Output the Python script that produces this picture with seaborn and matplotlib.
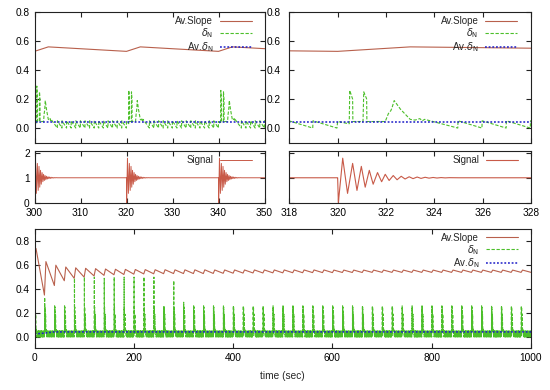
import matplotlib
matplotlib.use("Agg")
import pandas as pd
import matplotlib.pyplot as plt
import seaborn as sns


# kick times (sec): a new disturbance every 20 s
kick_times = [0, 20, 40, 60, 80, 100, 120, 140, 160, 180,
              200, 220, 240, 260, 280, 300, 320, 340, 360, 380,
              400, 420, 440, 460, 480, 500, 520, 540, 560, 580,
              600, 620, 640, 660, 680, 700, 720, 740, 760, 780,
              800, 820, 840, 860, 880, 900, 920, 940, 960, 980]

# height of the first delta_N spike after each kick
spike_height = [0.33, 0.33, 0.26, 0.26, 0.49, 0.50, 0.50, 0.49, 0.50, 0.50,
                0.50, 0.50, 0.50, 0.26, 0.47, 0.29, 0.26, 0.26, 0.26, 0.26,
                0.26, 0.26, 0.26, 0.26, 0.26, 0.26, 0.26, 0.26, 0.26, 0.26,
                0.26, 0.26, 0.26, 0.26, 0.26, 0.26, 0.26, 0.26, 0.26, 0.26,
                0.26, 0.26, 0.26, 0.26, 0.26, 0.26, 0.26, 0.26, 0.26, 0.26]

# Av.Slope: value reached a few s after each kick, and value just before the next one
slope_peak = [0.74, 0.63, 0.60, 0.585, 0.578, 0.574, 0.571, 0.568, 0.566, 0.565,
              0.564, 0.563, 0.562, 0.562, 0.561, 0.561, 0.561, 0.561, 0.560, 0.560,
              0.560, 0.560, 0.560, 0.560, 0.560, 0.560, 0.560, 0.560, 0.560, 0.560,
              0.559, 0.559, 0.559, 0.559, 0.559, 0.559, 0.559, 0.559, 0.559, 0.559,
              0.559, 0.559, 0.559, 0.559, 0.559, 0.559, 0.559, 0.559, 0.559, 0.559]
slope_trough = [0.35, 0.43, 0.47, 0.49, 0.50, 0.51, 0.515, 0.52, 0.522, 0.525,
                0.527, 0.528, 0.529, 0.530, 0.530, 0.530, 0.530, 0.531, 0.532, 0.533,
                0.534, 0.535, 0.535, 0.536, 0.536, 0.537, 0.537, 0.538, 0.538, 0.538,
                0.539, 0.539, 0.539, 0.540, 0.540, 0.540, 0.540, 0.540, 0.540, 0.540,
                0.540, 0.540, 0.540, 0.540, 0.540, 0.540, 0.540, 0.540, 0.540, 0.540]
slope_start = 0.70
slope_rise = 3.0

# delta_N during one 20 s cycle (offset from kick)
delta_cycle_t = [0.00, 0.45, 0.48, 0.50, 0.58, 0.62, 0.63, 1.05, 1.08, 1.18, 1.20, 1.21,
                 1.97, 2.10, 2.20, 2.25, 2.34, 2.60, 3.00, 3.20, 3.40, 3.50, 3.60, 3.83,
                 4.97, 4.98, 5.97, 5.98, 6.97, 6.98, 7.97, 7.98, 8.97, 8.98, 9.97, 9.98,
                 10.97, 10.98, 11.97, 11.98, 12.97, 12.98, 13.97, 13.98, 14.97, 14.98,
                 15.97, 15.98, 16.97, 16.98, 17.97, 17.98, 18.97, 18.98, 19.97]
delta_cycle_v = [0.045, 0.03, 0.03, 0.25, 0.22, 0.20, 0.045, 0.045, 0.25, 0.21, 0.20, 0.045,
                 0.045, 0.10, 0.12, 0.14, 0.19, 0.13, 0.06, 0.055, 0.065, 0.05, 0.06, 0.05,
                 0.0, 0.05, 0.0, 0.05, 0.0, 0.05, 0.0, 0.05, 0.0, 0.05, 0.0, 0.05,
                 0.0, 0.05, 0.0, 0.05, 0.0, 0.05, 0.0, 0.05, 0.0, 0.05,
                 0.0, 0.05, 0.0, 0.05, 0.0, 0.05, 0.0, 0.05, 0.0]
first_spike = 3

# signal after a kick: turning points of the ringing (offset from kick)
signal_t = [0.00, 0.03, 0.21, 0.41, 0.62, 0.80, 0.98, 1.14, 1.31, 1.47, 1.65, 1.82,
            1.97, 2.13, 2.30, 2.46, 2.63, 2.79, 2.96, 3.12, 3.29, 3.45, 3.62, 3.78,
            3.95, 4.11, 4.28, 4.45, 4.62, 5.00, 19.99]
signal_v = [1.00, 0.00, 1.79, 0.37, 1.58, 0.49, 1.46, 0.62, 1.30, 0.74, 1.21, 0.84,
            1.14, 0.89, 1.09, 0.92, 1.06, 0.95, 1.04, 0.965, 1.03, 0.975, 1.02, 0.985,
            1.012, 0.99, 1.008, 0.995, 1.004, 1.00, 1.00]

# Av.delta_N
avdelta_t = [0, 15, 40, 1000]
avdelta_v = [0.025, 0.03, 0.042, 0.042]

c_slope = "#b8604c"
c_delta = "#4cbf2a"
c_avd = "#1c1cc8"
c_sig = "#c85a48"

# build the full time series from the per-kick values
slope_t, slope_v, delta_t, delta_v, sig_t, sig_v = [], [], [], [], [], []
for k, T in enumerate(kick_times):
    prev = slope_start if k == 0 else slope_trough[k - 1]
    slope_t += [T, T + slope_rise, T + 20]
    slope_v += [prev, slope_peak[k], slope_trough[k]]
    vals = list(delta_cycle_v)
    vals[first_spike] = spike_height[k]
    delta_t += [T + o for o in delta_cycle_t]
    delta_v += vals
    sig_t += [T + o for o in signal_t]
    sig_v += signal_v

slope = pd.DataFrame({"t": slope_t, "v": slope_v})
delta = pd.DataFrame({"t": delta_t, "v": delta_v})
avdelta = pd.DataFrame({"t": avdelta_t, "v": avdelta_v})
signal = pd.DataFrame({"t": sig_t, "v": sig_v})

sns.set_style("ticks")
plt.rcParams["font.family"] = ["Liberation Sans", "DejaVu Sans"]
plt.rcParams["mathtext.fontset"] = "dejavusans"
plt.rcParams["font.size"] = 7.3
plt.rcParams["xtick.direction"] = "in"
plt.rcParams["ytick.direction"] = "in"
plt.rcParams["xtick.top"] = True
plt.rcParams["ytick.right"] = True
plt.rcParams["axes.linewidth"] = 0.8
plt.rcParams["axes.edgecolor"] = "#222222"

W, H = 550, 390
fig = plt.figure(figsize=(5.5, 3.9), dpi=100)


def add_ax(x0, x1, y0, y1):
    return fig.add_axes([x0 / W, 1 - y1 / H, (x1 - x0) / W, (y1 - y0) / H])


def draw_delta(ax, lw=0.8):
    sns.lineplot(x="t", y="v", data=slope, ax=ax, color=c_slope, lw=lw,
                 estimator=None, sort=False, label="Av.Slope")
    sns.lineplot(x="t", y="v", data=delta, ax=ax, color=c_delta, lw=lw,
                 estimator=None, sort=False, label=r"$\delta_\mathrm{N}$",
                 linestyle=(0, (3, 1.5)))
    sns.lineplot(x="t", y="v", data=avdelta, ax=ax, color=c_avd, lw=1.1,
                 estimator=None, sort=False, label=r"Av.$\delta_\mathrm{N}$",
                 linestyle=(0, (1.2, 1.2)))


def legend(ax, x, y):
    ax.legend(loc="upper right", bbox_to_anchor=(x, y), frameon=False,
              markerfirst=False, handlelength=3.3, handletextpad=0.7,
              labelspacing=0.0, borderaxespad=0, borderpad=0, fontsize=7.0)


def style(ax, ypad=3.5):
    ax.set_xlabel("")
    ax.set_ylabel("")
    ax.tick_params(length=3.5, width=0.8, colors="#222222", labelcolor="black")
    ax.tick_params(axis="y", pad=ypad)


# top-left: 300-350 s
ax1 = add_ax(34.5, 264.5, 12.3, 142.5)
draw_delta(ax1)
ax1.set_xlim(300, 350)
ax1.set_ylim(-0.1, 0.8)
ax1.set_xticks([300, 310, 320, 330, 340, 350])
ax1.set_yticks([0.0, 0.2, 0.4, 0.6, 0.8])
ax1.set_yticklabels(["0.0", "0.2", "0.4", "0.6", "0.8"])
ax1.tick_params(labelbottom=False)
style(ax1)
legend(ax1, 0.946, 0.97)

ax2 = add_ax(34.5, 264.5, 151, 203.3)
sns.lineplot(x="t", y="v", data=signal, ax=ax2, color=c_sig, lw=0.7,
             estimator=None, sort=False, label="Signal")
ax2.set_xlim(300, 350)
ax2.set_ylim(-0.03, 2.08)
ax2.set_xticks([300, 310, 320, 330, 340, 350])
ax2.set_yticks([0, 1, 2])
style(ax2)
legend(ax2, 0.946, 0.92)

# top-right: 318-328 s
ax3 = add_ax(289.3, 531, 12.3, 142.5)
draw_delta(ax3)
ax3.set_xlim(318, 328)
ax3.set_ylim(-0.1, 0.8)
ax3.set_xticks([318, 320, 322, 324, 326, 328])
ax3.set_yticks([0.0, 0.2, 0.4, 0.6, 0.8])
ax3.set_yticklabels(["0.0", "0.2", "0.4", "0.6", "0.8"])
ax3.tick_params(labelbottom=False)
style(ax3, ypad=6)
legend(ax3, 0.944, 0.97)

ax4 = add_ax(289.3, 531, 151, 203.3)
sns.lineplot(x="t", y="v", data=signal, ax=ax4, color=c_sig, lw=0.8,
             estimator=None, sort=False, label="Signal")
ax4.set_xlim(318, 328)
ax4.set_ylim(-0.03, 2.08)
ax4.set_xticks([318, 320, 322, 324, 326, 328])
ax4.set_yticks([0, 1, 2])
ax4.tick_params(labelleft=False)
style(ax4)
legend(ax4, 0.946, 0.92)

# bottom: whole run
ax5 = add_ax(34.5, 531, 229.3, 347.7)
draw_delta(ax5, lw=0.8)
ax5.set_xlim(0, 1000)
ax5.set_ylim(-0.09, 0.9)
ax5.set_xticks([0, 200, 400, 600, 800, 1000])
ax5.set_yticks([0.0, 0.2, 0.4, 0.6, 0.8])
ax5.set_yticklabels(["0.0", "0.2", "0.4", "0.6", "0.8"])
style(ax5)
ax5.set_xlabel("time (sec)", fontsize=7.3, labelpad=6)
legend(ax5, 0.974, 0.97)

fig.savefig("out.png", dpi=100)
